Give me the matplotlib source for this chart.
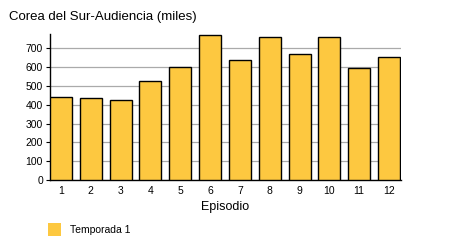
import numpy as np
from matplotlib import pyplot as plt
from matplotlib.patches import Rectangle

episodes = [1, 2, 3, 4, 5, 6, 7, 8, 9, 10, 11, 12]
audience = [440, 434, 425, 526, 599, 771, 636, 758, 668, 758, 594, 652]
yticks = [0, 100, 200, 300, 400, 500, 600, 700]
title = "Corea del Sur-Audiencia (miles)"
series_name = "Temporada 1"

plt.rcParams['font.family'] = ['Liberation Sans', 'DejaVu Sans']

fig = plt.figure(figsize=[4.5, 2.5], dpi=100)
fig.patch.set_facecolor('white')
ax = fig.add_axes([0.111, 0.28, 0.78, 0.583])

bar_color = "#fdc840"
ax.bar(episodes, audience, width=0.74, color=bar_color, edgecolor="k",
       linewidth=1.0, zorder=3)

ax.set_xlim(0.63, 12.4)
ax.set_ylim(0, 775)
ax.set_yticks(yticks)
ax.set_xticks(episodes)
ax.yaxis.grid(True, color="#aaaaaa", linewidth=0.9, zorder=0)
ax.set_axisbelow(True)

ax.spines['top'].set_visible(False)
ax.spines['right'].set_visible(False)
ax.spines['left'].set_linewidth(1.0)
ax.spines['bottom'].set_linewidth(1.0)
ax.tick_params(axis='y', length=3, width=0.8, labelsize=7.5, pad=2)
ax.tick_params(axis='x', length=0, labelsize=7.5, pad=4)

ax.set_xlabel("Episodio", fontsize=9, labelpad=4)
fig.text(9 / 450, 1 - 17 / 250, title, fontsize=9.5, ha="left", va="center")

# legend
fig.patches.append(Rectangle((48 / 450, 1 - 236 / 250), 13 / 450, 13 / 250,
                             transform=fig.transFigure, facecolor=bar_color,
                             edgecolor="none"))
fig.text(70 / 450, 1 - 230 / 250, series_name, fontsize=7.5, ha="left", va="center")

fig.savefig("out.png", dpi=100)
